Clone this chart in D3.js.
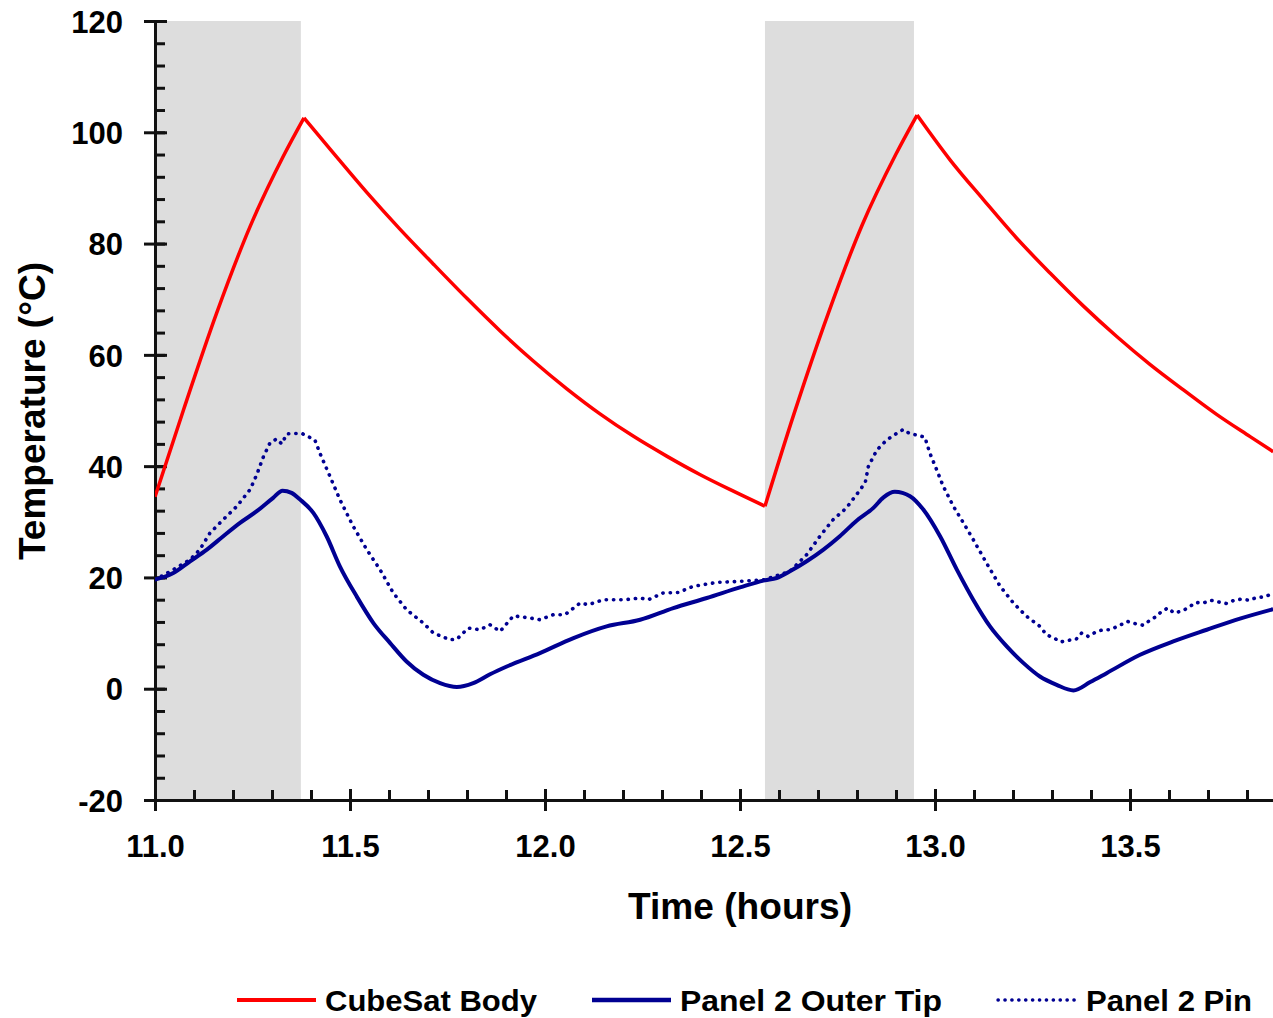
<!DOCTYPE html>
<html>
<head>
<meta charset="utf-8">
<script src="https://cdn.jsdelivr.net/npm/d3@7"></script>
<style>
  html, body { margin: 0; padding: 0; background: #fff; }
  svg text { font-family: "Liberation Sans", Arial, sans-serif; font-weight: bold; fill: #000; }
</style>
</head>
<body>
<svg id="chart" width="1273" height="1018"></svg>
<script>
'use strict';

// sunlit periods (hours)
const sunStart = [11.0, 12.564];
const sunEnd = [11.374, 12.946];

// CubeSat Body
const bodyTime = [11.000, 11.073, 11.158, 11.244, 11.329, 11.382, 11.457, 11.543, 11.628, 11.714, 11.799, 11.885, 11.970,
  12.056, 12.141, 12.226, 12.312, 12.397, 12.483, 12.564, 12.638, 12.725, 12.813, 12.900, 12.954, 13.038, 13.124, 13.209,
  13.295, 13.380, 13.466, 13.551, 13.637, 13.722, 13.808, 13.867];
const bodyTemp = [34.5, 50.1, 67.5, 83.1, 95.7, 102.6, 96.3, 89.2, 82.6, 76.3, 70.2, 64.3, 58.9,
  53.9, 49.4, 45.4, 41.8, 38.5, 35.5, 32.8, 49.3, 67.2, 83.3, 96.1, 103.1, 95.1, 87.9, 81.0,
  74.7, 68.8, 63.3, 58.3, 53.7, 49.3, 45.3, 42.6];

// Panel 2 Outer Tip
const tipTime = [11.000, 11.047, 11.090, 11.133, 11.175, 11.218, 11.261, 11.303, 11.327, 11.350, 11.372, 11.406, 11.440,
  11.474, 11.517, 11.560, 11.603, 11.645, 11.688, 11.731, 11.774, 11.816, 11.859, 11.902, 11.987, 12.073, 12.158, 12.244,
  12.329, 12.415, 12.500, 12.564, 12.594, 12.628, 12.671, 12.714, 12.756, 12.799, 12.842, 12.868, 12.897, 12.936, 12.970,
  13.013, 13.056, 13.098, 13.141, 13.184, 13.227, 13.269, 13.312, 13.355, 13.398, 13.440, 13.526, 13.611, 13.697, 13.782, 13.867];
const tipTemp = [19.6, 20.8, 22.9, 25.0, 27.4, 29.8, 31.9, 34.3, 35.6, 35.2, 34.0, 31.6, 27.4,
  22.0, 16.6, 11.8, 8.2, 4.9, 2.5, 1.0, 0.3, 1.0, 2.6, 4.0, 6.4, 9.1, 11.2, 12.4,
  14.5, 16.3, 18.2, 19.5, 19.9, 21.1, 22.9, 25.0, 27.4, 30.2, 32.5, 34.4, 35.4, 34.6, 32.2,
  27.4, 21.4, 16.0, 11.2, 7.6, 4.6, 2.2, 0.7, -0.3, 1.2, 2.8, 6.1, 8.5, 10.6, 12.6, 14.3];

// Panel 2 Pin
const pinTime = [11.000, 11.047, 11.090, 11.115, 11.141, 11.175, 11.210, 11.244, 11.261, 11.278, 11.295, 11.312, 11.325,
  11.338, 11.376, 11.410, 11.423, 11.449, 11.474, 11.508, 11.543, 11.577, 11.611, 11.645, 11.688, 11.714, 11.756, 11.774,
  11.803, 11.833, 11.859, 11.885, 11.919, 11.962, 11.987, 12.021, 12.051, 12.090, 12.111, 12.150, 12.205, 12.244, 12.265,
  12.303, 12.342, 12.380, 12.440, 12.500, 12.564, 12.628, 12.671, 12.705, 12.739, 12.773, 12.799, 12.821, 12.829, 12.842,
  12.851, 12.876, 12.902, 12.919, 12.936, 12.953, 12.974, 12.987, 13.004, 13.021, 13.047, 13.073, 13.098, 13.132, 13.167,
  13.201, 13.235, 13.269, 13.286, 13.308, 13.322, 13.342, 13.362, 13.376, 13.393, 13.410, 13.430, 13.449, 13.474, 13.493,
  13.513, 13.534, 13.551, 13.568, 13.581, 13.597, 13.613, 13.635, 13.652, 13.668, 13.688, 13.707, 13.726, 13.748, 13.767,
  13.786, 13.806, 13.825, 13.846, 13.867];
const pinTemp = [19.6, 21.4, 23.2, 25.0, 28.0, 30.4, 32.8, 35.8, 38.5, 41.7, 44.2, 44.9, 44.0,
  45.8, 45.9, 44.7, 42.3, 38.1, 34.0, 29.2, 25.0, 21.4, 17.2, 14.2, 11.8, 10.0, 8.8, 8.9,
  10.9, 10.6, 11.5, 10.3, 13.1, 12.7, 12.4, 13.3, 13.3, 15.4, 15.1, 16.0, 16.0, 16.3, 16.0,
  17.2, 17.3, 18.4, 19.1, 19.3, 19.6, 21.1, 24.1, 27.4, 30.4, 32.5, 34.9, 37.0, 39.9, 41.7,
  42.9, 44.7, 45.9, 46.6, 45.8, 45.6, 45.2, 42.3, 39.4, 36.4, 32.8, 29.8, 26.8, 22.6, 18.4,
  15.4, 13.0, 11.2, 9.7, 9.0, 8.4, 8.7, 8.9, 10.0, 9.4, 10.1, 10.6, 10.6, 11.4, 12.1,
  11.7, 11.4, 12.3, 13.0, 13.9, 14.5, 13.6, 14.0, 14.7, 15.5, 15.4, 15.9, 15.6, 15.3, 15.9,
  16.1, 15.9, 16.4, 16.5, 17.2];

const xTicks = [11.0, 11.5, 12.0, 12.5, 13.0, 13.5];
const yTicks = [-20, 0, 20, 40, 60, 80, 100, 120];

const seriesNames = ["CubeSat Body", "Panel 2 Outer Tip", "Panel 2 Pin"];

// layout
const margin = {top: 21, right: 0, bottom: 218, left: 155};
const W = 1273, H = 1018;
const width = W - margin.left - margin.right;
const height = H - margin.top - margin.bottom;

const svg = d3.select("#chart");
const g = svg.append("g").attr("transform", "translate(" + margin.left + "," + margin.top + ")");

const x = d3.scaleLinear().domain([11, 11 + width / 390]).range([0, width]);
const y = d3.scaleLinear().domain([-20, 120]).range([height, 0]);

svg.append("defs").append("clipPath").attr("id", "plotclip")
  .append("rect").attr("x", 0).attr("y", -5).attr("width", width).attr("height", height + 5);

// shaded sunlit bands
g.append("g").selectAll("rect")
  .data(sunStart)
  .enter().append("rect")
  .attr("x", d => x(d))
  .attr("y", y(120))
  .attr("width", (d, i) => x(sunEnd[i]) - x(d))
  .attr("height", y(-20) - y(120))
  .attr("fill", "#dddddd");

// ---- axes
const minorX = d3.range(11.0, 13.86, 0.1).map(v => +v.toFixed(1));
const minorY = d3.range(-20, 121, 4);

// inner ticks (minor + major, pointing into the plot)
g.append("g")
  .attr("transform", "translate(0," + height + ")")
  .call(d3.axisTop(x).tickValues(minorX).tickSize(10).tickFormat(""))
  .call(a => a.select(".domain").remove());
g.append("g")
  .call(d3.axisRight(y).tickValues(minorY).tickSize(10).tickFormat(""))
  .call(a => a.select(".domain").remove());
g.append("g")
  .attr("transform", "translate(0," + height + ")")
  .call(d3.axisTop(x).tickValues(xTicks).tickSize(11).tickFormat(""))
  .call(a => a.select(".domain").remove());
g.append("g")
  .call(d3.axisRight(y).tickValues(yTicks).tickSize(12).tickFormat(""))
  .call(a => a.select(".domain").remove());

// outer major ticks + labels (plain hyphen for negatives, like the source)
let xAxis = g.append("g")
  .attr("transform", "translate(0," + height + ")")
  .call(d3.axisBottom(x).tickValues(xTicks).tickSize(11).tickSizeOuter(0).tickPadding(24).tickFormat(d => d.toFixed(1)));
let yAxis = g.append("g")
  .call(d3.axisLeft(y).tickValues(yTicks).tickSize(11).tickSizeOuter(0).tickPadding(21).tickFormat(d => String(d)));

g.selectAll(".tick line").attr("stroke", "#111").attr("stroke-width", 3);
g.selectAll(".domain").attr("stroke", "#111").attr("stroke-width", 3);
xAxis.selectAll("text").style("font-size", "31px").attr("dy", "0.71em");
yAxis.selectAll("text").style("font-size", "31px").attr("dy", "0.36em");

// ---- lines
function toPoints(ts, vs) {
  return ts.map((t, i) => [t, vs[i]]);
}
// split a series at its sharp turning points so the corners stay sharp
function splitAtTurns(pts) {
  let parts = [], cur = [pts[0]];
  for (let i = 1; i < pts.length; i++) {
    cur.push(pts[i]);
    let next = pts[i + 1];
    if (next && (pts[i][1] - pts[i - 1][1]) * (next[1] - pts[i][1]) < 0) {
      parts.push(cur);
      cur = [pts[i]];
    }
  }
  parts.push(cur);
  return parts;
}
const line = d3.line().x(d => x(d[0])).y(d => y(d[1]));
const smoothLine = d3.line().x(d => x(d[0])).y(d => y(d[1])).curve(d3.curveMonotoneX);

const plot = g.append("g").attr("clip-path", "url(#plotclip)");

plot.append("path")
  .datum(toPoints(pinTime, pinTemp))
  .attr("d", line)
  .attr("fill", "none")
  .attr("stroke", "#000092")
  .attr("stroke-width", 3.6)
  .attr("stroke-linecap", "round")
  .attr("stroke-dasharray", "0.3 7");

plot.append("path")
  .datum(toPoints(tipTime, tipTemp))
  .attr("d", smoothLine)
  .attr("fill", "none")
  .attr("stroke", "#000092")
  .attr("stroke-width", 4)
  .attr("stroke-linejoin", "round");

plot.append("path")
  .attr("d", splitAtTurns(toPoints(bodyTime, bodyTemp)).map(p => smoothLine(p)).join(""))
  .attr("fill", "none")
  .attr("stroke", "#ff0000")
  .attr("stroke-width", 3.5)
  .attr("stroke-linejoin", "miter");

// ---- axis titles
svg.append("text")
  .attr("x", 740)
  .attr("y", 919)
  .attr("text-anchor", "middle")
  .attr("textLength", 224)
  .attr("lengthAdjust", "spacingAndGlyphs")
  .style("font-size", "36px")
  .text("Time (hours)");

svg.append("text")
  .attr("transform", "translate(45,411) rotate(-90)")
  .attr("text-anchor", "middle")
  .attr("textLength", 298)
  .attr("lengthAdjust", "spacingAndGlyphs")
  .style("font-size", "36px")
  .text("Temperature (°C)");

// ---- legend
const legendX = [237, 592, 998];
const legendTextLen = [212, 262, 166];
const legendStroke = [
  {color: "#ff0000", width: 4, dash: null},
  {color: "#000092", width: 4.5, dash: null},
  {color: "#000092", width: 3.4, dash: "0.3 6.6"}
];
const legend = svg.append("g").attr("transform", "translate(0,1000)");
seriesNames.forEach(function (name, i) {
  let item = legend.append("g").attr("transform", "translate(" + legendX[i] + ",0)");
  let ln = item.append("line")
    .attr("x1", 0).attr("x2", 79)
    .attr("y1", 0).attr("y2", 0)
    .attr("stroke", legendStroke[i].color)
    .attr("stroke-width", legendStroke[i].width);
  if (legendStroke[i].dash) {
    ln.attr("stroke-dasharray", legendStroke[i].dash).attr("stroke-linecap", "round");
  }
  item.append("text")
    .attr("x", 88)
    .attr("y", 11)
    .attr("textLength", legendTextLen[i])
    .attr("lengthAdjust", "spacingAndGlyphs")
    .style("font-size", "30px")
    .text(name);
});
</script>
</body>
</html>
